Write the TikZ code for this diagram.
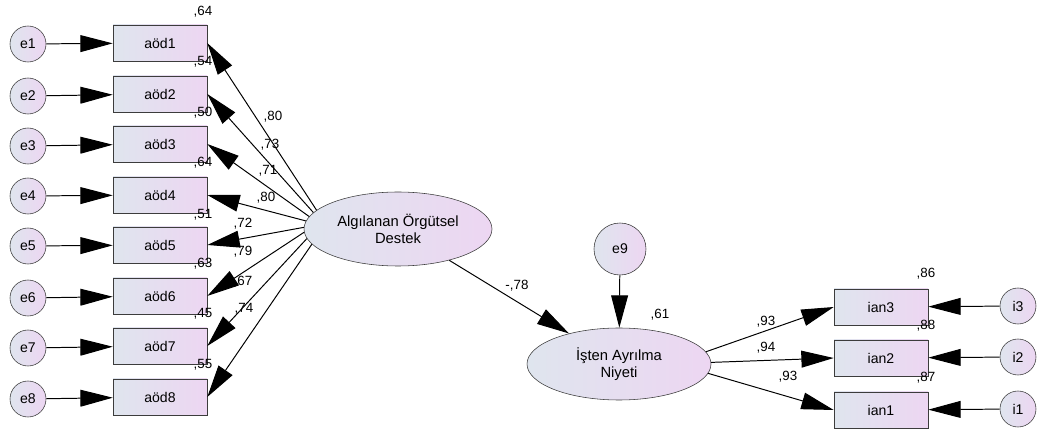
\documentclass[tikz,border=0pt]{standalone}
\usepackage{fontspec}
\setmainfont{Liberation Sans}
\usetikzlibrary{arrows.meta,shapes.geometric}
\definecolor{lowfill}{RGB}{223,229,238}
\definecolor{highfill}{RGB}{237,214,242}
\definecolor{edgegray}{RGB}{60,60,60}

\begin{document}
\begin{tikzpicture}[x=0.025cm, y=-0.025cm, font=\fontsize{10}{11}\selectfont]
    % Define shapes
    \tikzstyle{item}=[draw=edgegray, rectangle, left color=lowfill, right color=highfill, minimum width=94*0.025cm, minimum height=36*0.025cm, inner sep=0pt]
    \tikzstyle{factor}=[draw=edgegray, ellipse, left color=lowfill, right color=highfill, minimum width=188*0.025cm, minimum height=74*0.025cm, align=center, inner sep=0pt, font=\fontsize{10.5}{12}\selectfont]
    \tikzstyle{err}=[draw=edgegray, circle, left color=lowfill, right color=highfill, minimum size=36*0.025cm, inner sep=0pt]
    \tikzstyle{path}=[-{Triangle[length=23pt, width=12pt]}, draw=black, line width=0.7pt]
    \tikzstyle{coef}=[font=\fontsize{9.5}{10}\selectfont, inner sep=0pt]

    \useasboundingbox (0,0) rectangle (1041,432);

    % Place latent factors
    \node[factor] (aod) at (398,229) {Algılanan Örgütsel\\Destek};
    \node[factor, minimum width=184*0.025cm, minimum height=72*0.025cm] (ian) at (619,364) {İşten Ayrılma\\Niyeti};
    \node[err, minimum size=52*0.025cm] (e9) at (620,249) {e9};

    % Place left items
    \node[item] (aod1) at (160,43) {aöd1};
    \node[item] (aod2) at (160,94) {aöd2};
    \node[item] (aod3) at (160,144) {aöd3};
    \node[item] (aod4) at (160,195) {aöd4};
    \node[item] (aod5) at (160,245) {aöd5};
    \node[item] (aod6) at (160,296) {aöd6};
    \node[item] (aod7) at (160,346) {aöd7};
    \node[item] (aod8) at (160,397) {aöd8};

    % Place left error terms
    \node[err] (e1) at (28,44) {e1};
    \node[err] (e2) at (28,96) {e2};
    \node[err] (e3) at (28,146) {e3};
    \node[err] (e4) at (28,196) {e4};
    \node[err] (e5) at (28,246) {e5};
    \node[err] (e6) at (28,298) {e6};
    \node[err] (e7) at (28,348) {e7};
    \node[err] (e8) at (28,399) {e8};

    % Place right items
    \node[item] (ian3) at (881,307) {ian3};
    \node[item] (ian2) at (881,358) {ian2};
    \node[item] (ian1) at (881,410) {ian1};
    \node[err] (i3) at (1018,306) {i3};
    \node[err] (i2) at (1018,357) {i2};
    \node[err] (i1) at (1018,409) {i1};

    % Connect error terms
    \draw[path] (e1) -- (aod1);
    \draw[path] (e2) -- (aod2);
    \draw[path] (e3) -- (aod3);
    \draw[path] (e4) -- (aod4);
    \draw[path] (e5) -- (aod5);
    \draw[path] (e6) -- (aod6);
    \draw[path] (e7) -- (aod7);
    \draw[path] (e8) -- (aod8);
    \draw[path] (i3) -- (ian3);
    \draw[path] (i2) -- (ian2);
    \draw[path] (i1) -- (ian1);
    \draw[path] (e9) -- (ian);

    % Connect factor to items
    \draw[path] (aod.167) -- (aod1.east);
    \draw[path] (aod.169) -- (aod2.east);
    \draw[path] (aod.172) -- (aod3.east);
    \draw[path] (aod.175) -- (aod4.east);
    \draw[path] (aod.179) -- (aod5.east);
    \draw[path] (aod.182) -- (aod6.east);
    \draw[path] (aod.186) -- (aod7.east);
    \draw[path] (aod.190) -- (aod8.east);
    \draw[path] (aod) -- (ian);
    \draw[path] (ian.8) -- (ian3.west);
    \draw[path] (ian.1) -- (ian2.west);
    \draw[path] (ian.-6) -- (ian1.west);

    % Loadings
    \node[coef] (l1) at (273,117) {,80};
    \node[coef] (l2) at (270,145) {,73};
    \node[coef] (l3) at (268,171) {,71};
    \node[coef] (l4) at (266,198) {,80};
    \node[coef] (l5) at (243,224) {,72};
    \node[coef] (l6) at (243,252) {,79};
    \node[coef] (l7) at (243,282) {,67};
    \node[coef] (l8) at (244,309) {,74};
    \node[coef] (lp) at (517,286) {-,78};
    \node[coef] (li3) at (766,322) {,93};
    \node[coef] (li2) at (766,348) {,94};
    \node[coef] (li1) at (788,377) {,93};

    % Squared multiple correlations
    \node[coef] (r1) at (203,12) {,64};
    \node[coef] (r2) at (203,62) {,54};
    \node[coef] (r3) at (203,113) {,50};
    \node[coef] (r4) at (203,163) {,64};
    \node[coef] (r5) at (203,215) {,51};
    \node[coef] (r6) at (203,264) {,63};
    \node[coef] (r7) at (203,314) {,45};
    \node[coef] (r8) at (203,365) {,55};
    \node[coef] (rian) at (660,315) {,61};
    \node[coef] (r9) at (926,274) {,86};
    \node[coef] (r10) at (926,326) {,88};
    \node[coef] (r11) at (926,378) {,87};
\end{tikzpicture}
\end{document}
